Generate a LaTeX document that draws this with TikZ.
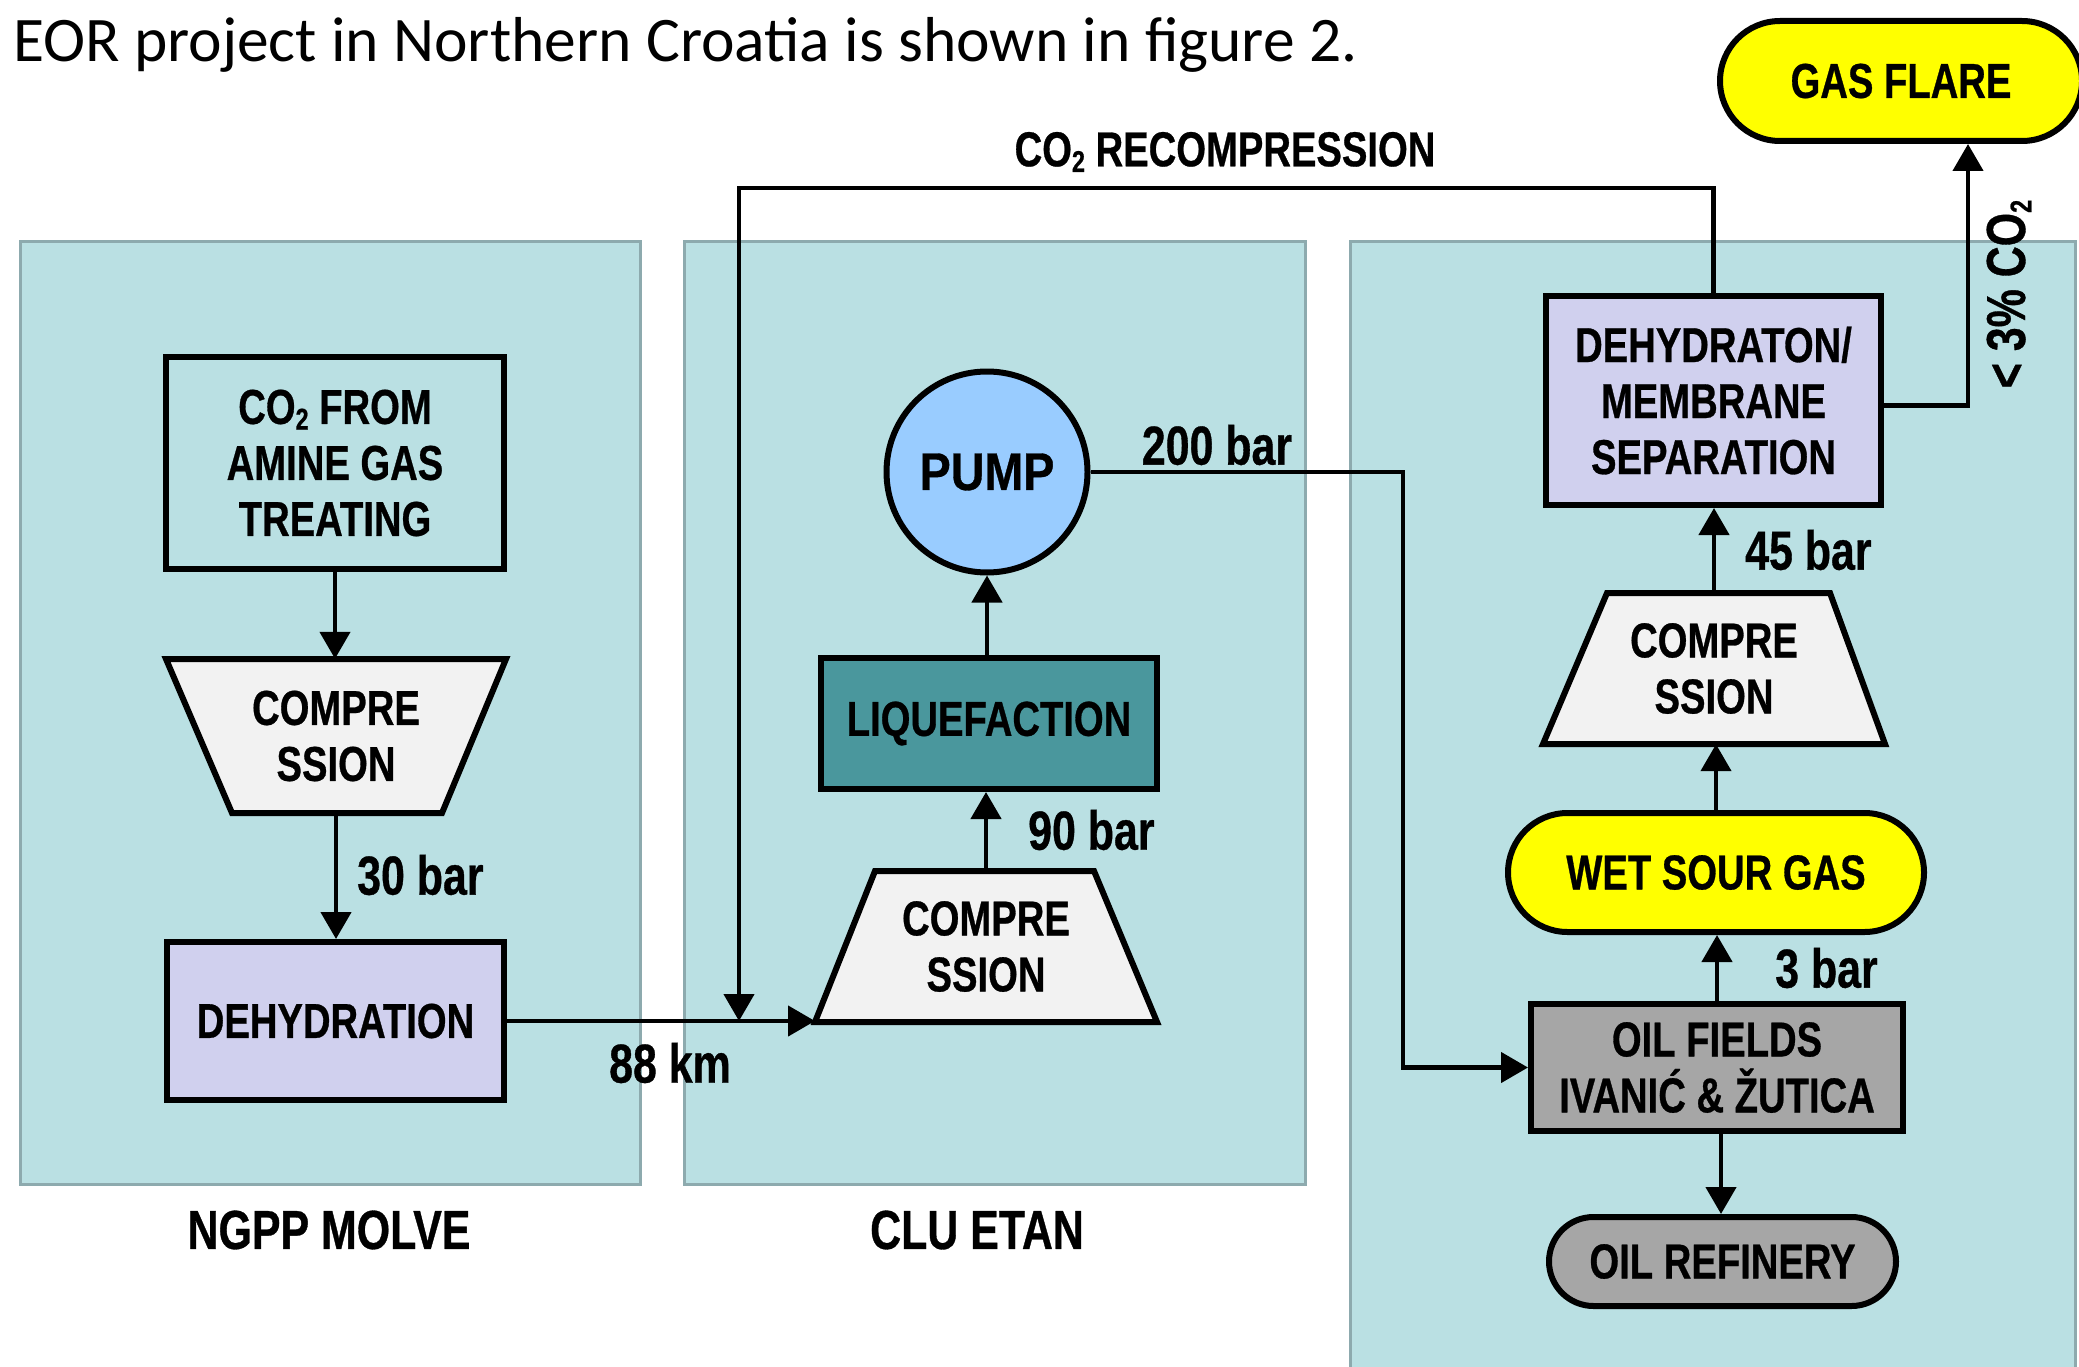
\documentclass[tikz,border=0pt]{standalone}
\usepackage{fontspec}
\setmainfont{Liberation Sans}
\newfontfamily\nbfont[FakeStretch=0.78,FakeBold=0.6]{Liberation Sans}
\newfontfamily\pumpfam[FakeStretch=0.88,FakeBold=0.6]{Liberation Sans}
\newfontfamily\topfont{Carlito}
\usetikzlibrary{arrows.meta,shapes.misc}
\definecolor{panelfill}{HTML}{BAE0E3}
\definecolor{panelline}{HTML}{8DAAAE}
\definecolor{compfill}{HTML}{F2F2F2}
\definecolor{lavfill}{HTML}{D0D0EE}
\definecolor{liqfill}{HTML}{4A979D}
\definecolor{pumpfill}{HTML}{99CCFF}
\definecolor{flareyellow}{HTML}{FFFF00}
\definecolor{oilgrey}{HTML}{A6A6A6}
\newcommand\nodefont{\nbfont\bfseries\fontsize{49}{56}\selectfont}
\newcommand\labelfont{\nbfont\bfseries\fontsize{55}{60}\selectfont}
\newcommand\pumpfont{\pumpfam\bfseries\fontsize{53}{58}\selectfont}
\newcommand\subtwo{\raisebox{-0.22ex}{\fontsize{30}{30}\selectfont 2}}
\begin{document}
\begin{tikzpicture}[x=1pt,y=-1pt,
  panel/.style={fill=panelfill, draw=panelline, line width=3pt, inner sep=0pt},
  box/.style={draw=black, line width=6pt, inner sep=0pt, align=center, font=\nodefont, text=black},
  trap/.style={fill=compfill, draw=black, line width=6pt, line join=miter},
  txt/.style={inner sep=0pt, align=center, font=\nodefont},
  lbl/.style={inner sep=0pt, font=\labelfont},
  arr/.style={line width=4.5pt, -{Triangle[width=30pt,length=27pt]}}]
\useasboundingbox (0,0) rectangle (2079,1367);
\clip (0,0) rectangle (2079,1367);
\fill[white] (0,0) rectangle (2079,1367);

% top text
\node[anchor=base west, inner sep=0pt, font=\topfont\fontsize{63.5}{70}\selectfont] (toptext) at (13,62) {EOR project in Northern Croatia is shown in figure 2.};

% panels
\node[panel, minimum width=620pt, minimum height=943pt] (p1) at (330,712.5) {};
\node[panel, minimum width=621pt, minimum height=943pt] (p2) at (994.5,712.5) {};
\node[panel, minimum width=725pt, minimum height=1140pt] (p3) at (1712.5,811) {};

\node[font=\labelfont] (p1lbl) at (329,1230) {NGPP MOLVE};
\node[font=\labelfont] (p2lbl) at (977,1230) {CLU ETAN};

% left panel
\node[box, minimum width=338pt, minimum height=212pt] (co2) at (335,463) {CO\subtwo{} FROM\\AMINE GAS\\TREATING};
\draw[trap] (166,659) -- (506,659) -- (442,813) -- (232,813) -- cycle;
\node[txt, minimum height=154pt] (comp1) at (336,736) {COMPRE\\SSION};
\node[box, fill=lavfill, minimum width=337pt, minimum height=158pt] (dehyd) at (335.5,1021) {DEHYDRATION};

% middle panel
\draw[trap] (815,1022) -- (1157,1022) -- (1094,871) -- (875,871) -- cycle;
\node[txt, minimum height=151pt] (comp2) at (986,946.5) {COMPRE\\SSION};
\node[box, fill=liqfill, minimum width=336pt, minimum height=131pt] (liq) at (989,723.5) {LIQUEFACTION};
\node[box, circle, fill=pumpfill, minimum size=201pt, font=\pumpfont] (pump) at (987,472) {PUMP};

% right panel
\node[box, fill=lavfill, minimum width=335pt, minimum height=209pt] (mem) at (1713.5,400.5) {DEHYDRATON/\\MEMBRANE\\SEPARATION};
\draw[trap] (1543,744) -- (1885,744) -- (1830,593) -- (1607,593) -- cycle;
\node[txt, minimum height=151pt] (comp3) at (1714,668.5) {COMPRE\\SSION};
\node[box, rounded rectangle, fill=flareyellow, minimum width=362pt, minimum height=120pt] (flare) at (1901,81) {GAS FLARE};
\node[box, rounded rectangle, fill=flareyellow, minimum width=416pt, minimum height=119pt] (wet) at (1716,872.5) {WET SOUR GAS};
\node[box, fill=oilgrey, minimum width=372pt, minimum height=127pt] (oil) at (1717,1067.5) {OIL FIELDS\\IVANIĆ \& ŽUTICA};
\node[box, rounded rectangle, fill=oilgrey, minimum width=347pt, minimum height=89pt] (ref) at (1722.5,1261.5) {OIL REFINERY};

% labels
\node[lbl, anchor=west] (l30) at (357,875) {30 bar};
\node[lbl] (l88) at (670,1063) {88 km};
\node[lbl, anchor=west] (l90) at (1028,830) {90 bar};
\node[lbl] (l200) at (1217,445) {200 bar};
\node[lbl, anchor=west] (l45) at (1745,550) {45 bar};
\node[lbl, anchor=west] (l3) at (1775,968) {3 bar};
\node[lbl, rotate=90] (l3pct) at (2009,294) {< 3\% CO\subtwo};
\node[txt] (lrec) at (1225,152) {CO\subtwo{} RECOMPRESSION};

% coordinates
\coordinate (c2in) at (815,1021);
\coordinate (rtop) at (739,188);
\coordinate (recin) at (739,1021);
\coordinate (pturn) at (1403,472);

% connectors
\draw[arr] (co2.south) -- (co2.south |- comp1.north);
\draw[arr] (comp1.south) -- (comp1.south |- dehyd.north);
\draw[arr] (dehyd.east) -- (c2in);
\draw[arr] (mem.north) |- (rtop) -- (recin);
\draw[arr] (comp2.north) -- (comp2.north |- liq.south);
\draw[arr] (pump.south |- liq.north) -- (pump.south);
\draw[arr] (pump.east) -- (pturn) |- (oil.west);
\draw[arr] (oil.north) -- (oil.north |- wet.south);
\draw[arr] (wet.north) -- (wet.north |- comp3.south);
\draw[arr] (comp3.north) -- (comp3.north |- mem.south);
\draw[arr] ([yshift=-5pt]mem.east) -| ([xshift=67pt]flare.south);
\draw[arr] ([xshift=4pt]oil.south) -- ([xshift=4pt]oil.south |- ref.north);
\end{tikzpicture}
\end{document}
